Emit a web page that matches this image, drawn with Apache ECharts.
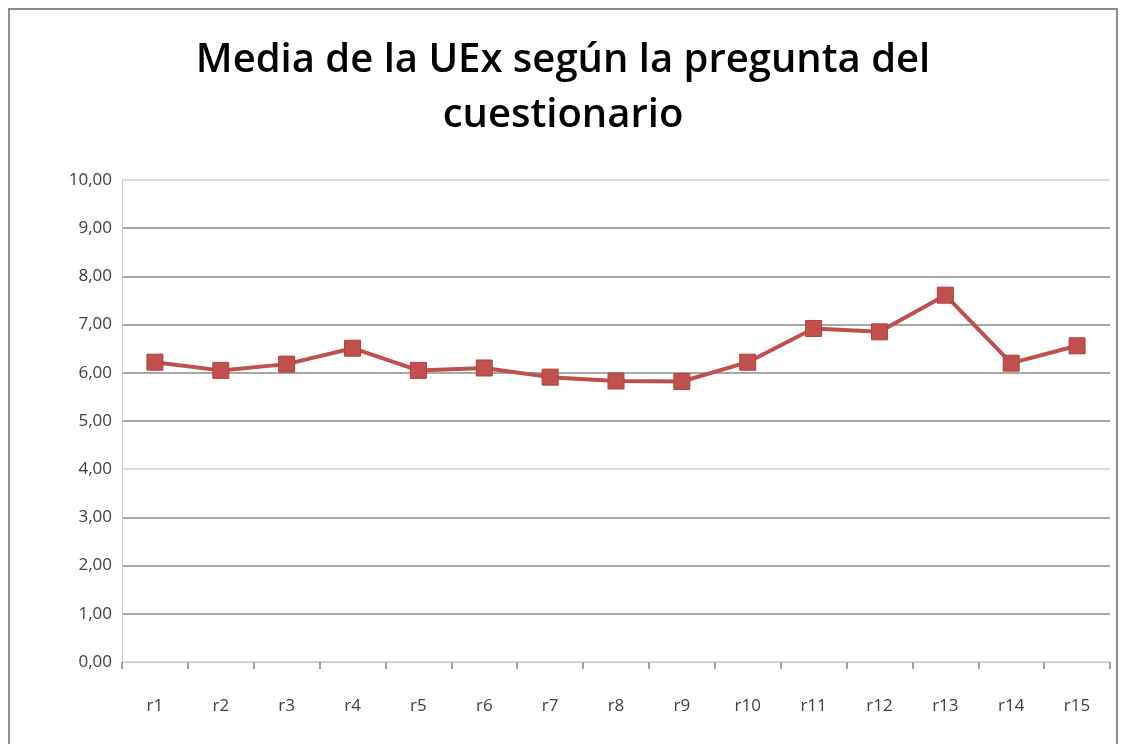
<!DOCTYPE html>
<html>
<head>
<meta charset="utf-8">
<script src="https://cdn.jsdelivr.net/npm/echarts@6/dist/echarts.min.js"></script>
<style>
  html, body { margin: 0; padding: 0; background: #fff; }
  #frame {
    position: absolute; left: 8px; top: 8px; width: 1110px; height: 760px;
    border: 2px solid #8c8c8c; box-sizing: border-box;
  }
  #chart { position: absolute; left: 0; top: 0; width: 1126px; height: 744px; }
</style>
</head>
<body>
<div id="frame"></div>
<div id="chart"></div>
<script>
const categories = ['r1', 'r2', 'r3', 'r4', 'r5', 'r6', 'r7', 'r8', 'r9', 'r10', 'r11', 'r12', 'r13', 'r14', 'r15']
const mediaValues = [6.22, 6.05, 6.18, 6.51, 6.05, 6.10, 5.91, 5.83, 5.82, 6.22, 6.92, 6.85, 7.61, 6.20, 6.56]
const titleLines = ['Media de la UEx según la pregunta del', 'cuestionario']

const chart = echarts.init(document.getElementById('chart'))

chart.setOption({
  animation: false,
  title: {
    text: titleLines.join('\n'),
    left: 'center',
    top: 28,
    textStyle: {
      fontFamily: 'Open Sans',
      fontWeight: 600,
      fontSize: 40,
      lineHeight: 55,
      color: '#000',
    },
  },
  grid: { left: 122, top: 180, right: 16, bottom: 82 },
  xAxis: {
    type: 'category',
    data: categories,
    boundaryGap: true,
    axisLine: { lineStyle: { color: '#c8c8c8', width: 1 } },
    axisTick: { show: true, length: 7, lineStyle: { color: '#a0a0a0', width: 2 } },
    axisLabel: { color: '#404040', fontFamily: 'Open Sans', fontSize: 17, margin: 36 },
  },
  yAxis: {
    type: 'value',
    min: 0,
    max: 10,
    interval: 1,
    axisLine: { show: true, lineStyle: { color: '#c8c8c8', width: 1 } },
    axisTick: { show: false },
    axisLabel: {
      color: '#404040',
      fontFamily: 'Open Sans',
      fontSize: 17,
      margin: 10,
      formatter: (v) => v.toFixed(2).replace('.', ','),
    },
    splitLine: {
      lineStyle: {
        color: ['#dcdcdc', '#a8a8a8', '#a8a8a8', '#a8a8a8', '#dcdcdc', '#a8a8a8', '#a8a8a8', '#a8a8a8', '#a8a8a8', '#a8a8a8', '#dcdcdc'],
        width: 2,
      },
    },
  },
  series: [
    {
      type: 'line',
      data: mediaValues,
      symbol: 'rect',
      symbolSize: 16,
      color: '#c0504d',
      lineStyle: { width: 4, color: '#c0504d' },
      itemStyle: { color: '#c0504d', borderColor: '#b0403d', borderWidth: 1 },
    },
  ],
})
</script>
</body>
</html>
